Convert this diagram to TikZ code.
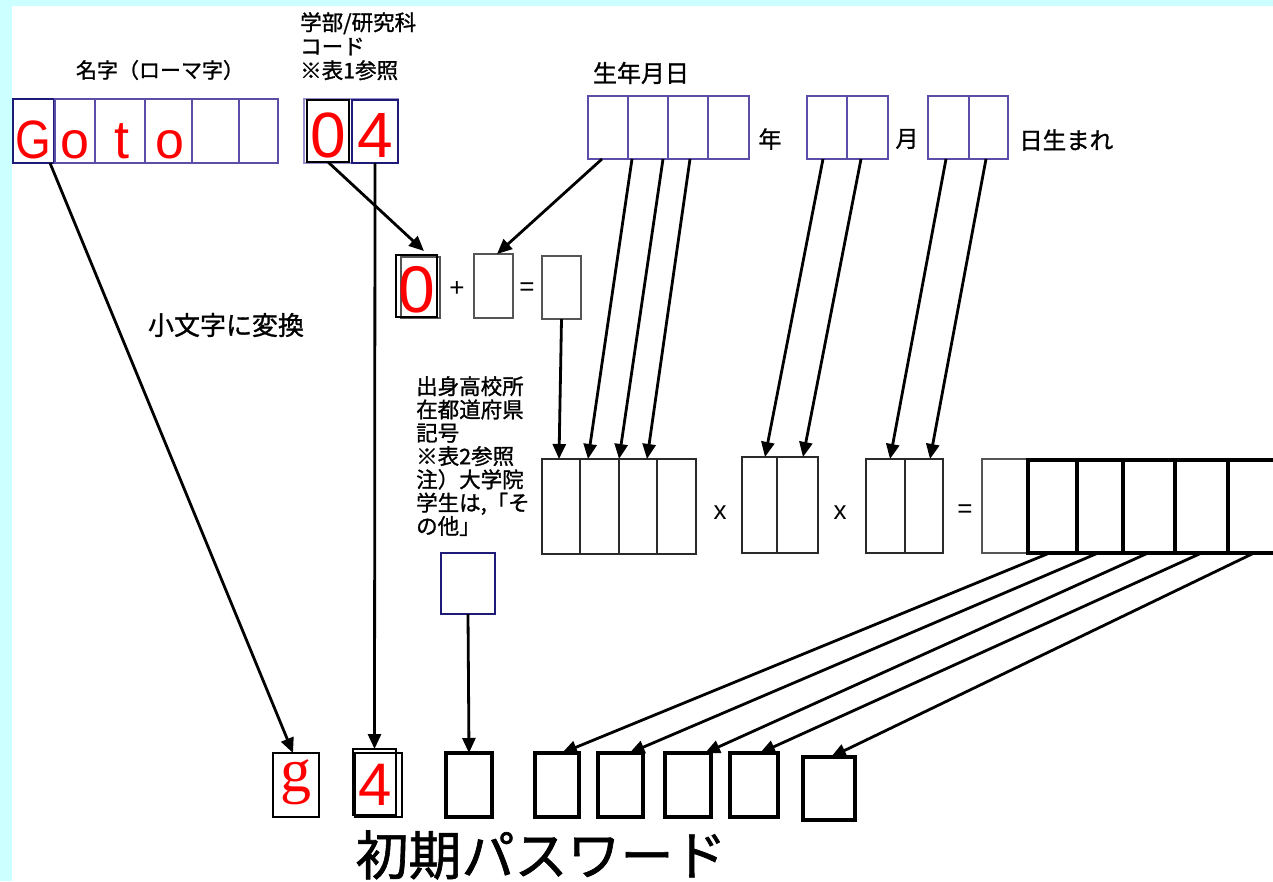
\documentclass[tikz,border=0pt]{standalone}
\usepackage{fontspec}
\setmainfont{Liberation Sans}
\newfontfamily\jpf[FakeBold=1.2]{Noto Sans CJK JP}
\newfontfamily\serf{Liberation Serif}
\usetikzlibrary{arrows.meta}
\definecolor{bgcyan}{HTML}{CCFFFF}
\definecolor{navy}{HTML}{1E1A78}
\definecolor{pur}{HTML}{5A4EA8}
\definecolor{lpur}{HTML}{9890CC}
\definecolor{gbox}{HTML}{555555}
\definecolor{multc}{HTML}{2A2A2A}
\begin{document}
\begin{tikzpicture}[x=1pt,y=-1pt,
 cell/.style 2 args={draw, inner sep=0pt, outer sep=0pt, anchor=north west, minimum width=#1pt, minimum height=#2pt},
 namec/.style={draw=pur, line width=1.4pt},
 navyc/.style={draw=navy, line width=2.8pt},
 grayc/.style={draw=gbox, line width=1.5pt},
 multb/.style={draw=multc, line width=1.6pt},
 thickc/.style={draw=black, line width=3.2pt},
 redch/.style={text=red, inner sep=0pt, anchor=base},
 jp/.style={inner sep=0pt},
 op/.style={inner sep=0pt, font=\fontsize{26}{26}\selectfont},
 arr/.style={draw=black, line width=2.8pt, -{Triangle[length=15pt,width=13pt]}},
]
\fill[bgcyan] (0,0) rectangle (1273,881);
\fill[white] (12,6) rectangle (1273,881);
\useasboundingbox (0,0) rectangle (1273,881);
\clip (0,0) rectangle (1273,881);

% ---- name row
\node[cell={41}{64}, navyc] (n1) at (13,99) {};
\node[cell={40}{64}, namec] (n2) at (55,99) {};
\node[cell={50}{64}, namec] (n3) at (95,99) {};
\node[cell={47}{64}, namec] (n4) at (145,99) {};
\node[cell={47}{64}, namec] (n5) at (192,99) {};
\node[cell={39}{64}, namec] (n6) at (239,99) {};
\node[redch, font=\fontsize{54}{54}\selectfont, xscale=0.85, transform shape] (tG) at (33,158) {G};
\node[redch, font=\fontsize{52}{52}\selectfont] (to1) at (75,158) {o};
\node[redch, font=\fontsize{54}{54}\selectfont] (tt) at (122,158) {t};
\node[redch, font=\fontsize{52}{52}\selectfont] (to2) at (170,158) {o};
\node[jp, font={\jpf\fontsize{21}{24}\selectfont}] (lname) at (160,70) {名字（ローマ字）};

% ---- faculty code
\node[cell={94}{64}, draw=lpur, line width=1.2pt] (dc) at (304,99) {};
\node[cell={42}{62}, draw=black, line width=1.5pt] (d0) at (307,100) {};
\node[cell={46}{63}, navyc] (d4) at (352,100) {};
\node[redch, font=\fontsize{64}{64}\selectfont] (td0) at (328,157) {0};
\node[redch, font=\fontsize{64}{64}\selectfont] (td4) at (375,157) {4};
\node[jp, font={\jpf\fontsize{21.5}{24}\selectfont}, align=left, anchor=north west] (lfac) at (300,12) {学部/研究科\\コード\\※表1参照};

% ---- birth date
\node[jp, font={\jpf\fontsize{24}{24}\selectfont}] (lbirth) at (641,73) {生年月日};
\node[cell={40}{63}, namec] (y1) at (588,96) {};
\node[cell={40}{63}, namec] (y2) at (628,96) {};
\node[cell={40}{63}, namec] (y3) at (668,96) {};
\node[cell={41}{63}, namec] (y4) at (708,96) {};
\node[cell={40}{63}, namec] (m1) at (807,96) {};
\node[cell={41}{63}, namec] (m2) at (847,96) {};
\node[cell={41}{63}, namec] (dd1) at (928,96) {};
\node[cell={39}{63}, namec] (dd2) at (969,96) {};
\node[jp, font={\jpf\fontsize{23}{23}\selectfont}] (lyear) at (770,139) {年};
\node[jp, font={\jpf\fontsize{23}{23}\selectfont}] (lmonth) at (907,139) {月};
\node[jp, font={\jpf\fontsize{23.5}{23.5}\selectfont}, anchor=west] (lday) at (1019,140) {日生まれ};

% ---- middle sum
\node[cell={39}{61}, grayc] (z0b) at (401,257) {};
\node[cell={41}{62}, draw=black, line width=1.5pt] (z0a) at (396,255) {};
\node[redch, font=\fontsize{66}{66}\selectfont] (tz0) at (417,312) {0};
\node[op] (plus) at (457,289) {+};
\node[cell={39}{64}, grayc] (z2) at (474,254) {};
\node[op] (eq1) at (527,289) {=};
\node[cell={39}{63}, grayc] (z3) at (542,256) {};

% ---- labels left
\node[jp, font={\jpf\fontsize{26}{26}\selectfont}] (llower) at (226,325) {小文字に変換};
\node[jp, font={\jpf\fontsize{21.5}{23.3}\selectfont}, align=left, anchor=north west] (lpref) at (416,376) {出身高校所\\在都道府県\\記号\\※表2参照\\注）大学院\\学生は,「そ\\の他」};

% ---- multiplication row
\node[cell={38}{95}, multb] (p1) at (542,459) {};
\node[cell={39}{95}, multb] (p2) at (580,459) {};
\node[cell={38}{95}, multb] (p3) at (619,459) {};
\node[cell={39}{95}, multb] (p4) at (657,459) {};
\node[op] (x1) at (720,513) {x};
\node[cell={35}{96}, multb] (q1) at (742,457) {};
\node[cell={41}{96}, multb] (q2) at (777,457) {};
\node[op] (x2) at (840,513) {x};
\node[cell={39}{94}, multb] (r1) at (866,459) {};
\node[cell={38}{94}, multb] (r2) at (905,459) {};
\node[op] (eq2) at (965,511) {=};
\node[cell={46}{94}, grayc] (s0) at (982,459) {};
\node[cell={49}{93}, thickc] (s1) at (1028,460) {};
\node[cell={46}{93}, thickc] (s2) at (1077,460) {};
\node[cell={52}{93}, thickc] (s3) at (1123,460) {};
\node[cell={53}{93}, thickc] (s4) at (1175,460) {};
\node[cell={60}{93}, thickc] (s5) at (1228,460) {};

% ---- prefecture box
\node[cell={54}{61}, navyc] (pb) at (441,553) {};

% ---- password row
\node[cell={46}{64}, draw=black, line width=2.8pt] (pg) at (273,753) {};
\node[cell={47}{64}, draw=black, line width=1.8pt] (p4b) at (355,753) {};
\node[cell={43}{66}, draw=black, line width=2pt] (p4a) at (353,749) {};
\node[cell={46}{64}, thickc] (b3) at (446,753) {};
\node[cell={44}{64}, thickc] (b4) at (535,753) {};
\node[cell={45}{64}, thickc] (b5) at (598,753) {};
\node[cell={46}{64}, thickc] (b6) at (665,753) {};
\node[cell={48}{64}, thickc] (b7) at (730,753) {};
\node[cell={52}{63}, thickc] (b8) at (803,757) {};
\node[redch, font={\serf\fontsize{62}{62}\selectfont}] (tg) at (296,791) {g};
\node[redch, font=\fontsize{60}{60}\selectfont] (tp4) at (375,805) {4};
\node[jp, font={\jpf\fontsize{53}{53}\selectfont}] (lpw) at (541,855) {初期パスワード};

% ---- arrows
\draw[arr] ([xshift=37pt]n1.south west) -- ([xshift=20pt]pg.north west);
\draw[arr] (d4.south) -- (p4a.north);
\draw[arr] (d0.south) -- ([xshift=28pt,yshift=4pt]z0a.north west);
\draw[arr] ([xshift=14pt]y1.south west) -- ([xshift=23pt]z2.north west);
\draw[arr] (z3.south) -- ([xshift=-2pt]p1.north);
\draw[arr] ([xshift=44pt]y1.south west) -- ([xshift=8pt]p2.north west);
\draw[arr] ([xshift=75pt]y1.south west) -- (p3.north west);
\draw[arr] ([xshift=102pt]y1.south west) -- ([xshift=28pt]p3.north west);
\draw[arr] ([xshift=16pt]m1.south west) -- ([xshift=23pt]q1.north west);
\draw[arr] ([xshift=54pt]m1.south west) -- ([xshift=26pt]q2.north west);
\draw[arr] ([xshift=18pt]dd1.south west) -- ([xshift=24pt]r1.north west);
\draw[arr] ([xshift=58pt]dd1.south west) -- ([xshift=25pt]r2.north west);
\draw[arr] ([xshift=-3pt]s1.south) -- ([xshift=5pt]b4.north);
\draw[arr] ([xshift=-2pt]s2.south) -- ([xshift=9pt]b5.north);
\draw[arr] ([xshift=-1pt]s3.south) -- ([xshift=17pt]b6.north);
\draw[arr] (s4.south) -- ([xshift=6pt]b7.north);
\draw[arr] ([xshift=-4pt]s5.south) -- ([xshift=2pt]b8.north);
\draw[arr] (pb.south) -- (b3.north);
\end{tikzpicture}
\end{document}
